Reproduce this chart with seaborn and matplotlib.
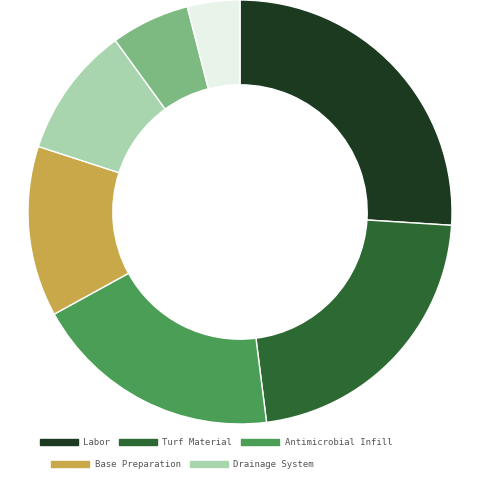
import matplotlib
matplotlib.use("Agg")
import matplotlib.pyplot as plt
import seaborn as sns
from matplotlib.patches import Patch

sns.set_theme(style="white")
plt.rcParams['font.family'] = ['DejaVu Sans Mono']

categories = ["Labor", "Turf Material", "Antimicrobial Infill", "Base Preparation",
              "Drainage System", "Equipment", "Other"]
values = [26, 22, 19, 13, 10, 6, 4]
colors = ["#1b3a20", "#2d6a33", "#4a9e55", "#c9a84a", "#a8d5ae", "#7dba82", "#e8f4ea"]
legend_count = 5

fig = plt.figure(figsize=(4.8, 4.8), dpi=100)
ax = fig.add_axes([28/480, 56/480, 424/480, 424/480])
ax.pie(values, colors=colors, startangle=90, counterclock=False, radius=1,
       wedgeprops=dict(width=0.4, edgecolor="white", linewidth=1))
ax.set_xlim(-1, 1); ax.set_ylim(-1, 1)
ax.set_aspect("equal")
ax.axis("off")

h = [Patch(color=colors[i], label=categories[i]) for i in range(legend_count)]
leg1 = fig.legend(handles=h[:3], loc="center", bbox_to_anchor=(0.45, 0.078), ncol=3,
                  frameon=False, fontsize=6.5, handlelength=4.2, handleheight=0.6,
                  columnspacing=1.0, handletextpad=0.6, labelcolor="#555555")
fig.legend(handles=h[3:], loc="center", bbox_to_anchor=(0.38, 0.032), ncol=2,
           frameon=False, fontsize=6.5, handlelength=4.2, handleheight=0.6,
           columnspacing=1.0, handletextpad=0.6, labelcolor="#555555")
fig.savefig("out.png", dpi=100)
